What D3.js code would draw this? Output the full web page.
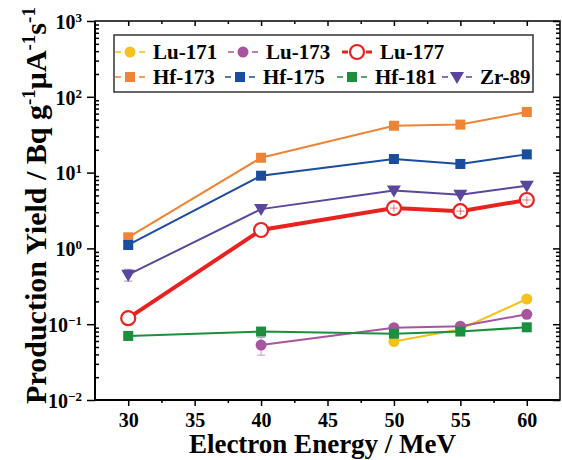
<!DOCTYPE html>
<html>
<head>
<meta charset="utf-8">
<script src="https://cdn.jsdelivr.net/npm/d3@7"></script>
<style>
  body { margin: 0; background: #fff; }
</style>
</head>
<body>
<div id="chart"></div>
<script>
// Data (null = no point).
const energies = [30, 40, 50, 55, 60];
const xTicks = [30, 35, 40, 45, 50, 55, 60];
const xMinorTicks = [32.5, 37.5, 42.5, 47.5, 52.5, 57.5];
const yDecades = [1e-2, 1e-1, 1e0, 1e1, 1e2, 1e3];
const yExponents = ["\u22122", "\u22121", "0", "1", "2", "3"];

const lu171 = [null, null, 0.059, 0.086, 0.215];
const lu173 = [null, 0.053, 0.090, 0.094, 0.135];
const lu177 = [0.12, 1.75, 3.4, 3.1, 4.35];
const hf173 = [1.4, 15.7, 41.5, 43, 63];
const hf175 = [1.11, 9.1, 15.1, 13, 17.4];
const hf181 = [0.070, 0.080, 0.075, 0.080, 0.091];
const zr89 = [0.45, 3.3, 5.8, 5.1, 6.7];

// Error bars (absolute), only where visible.
const lu173Err = [null, 0.014, null, null, null];
const lu177Err = [null, null, 0.4, 0.36, 0.5];
const zr89Err = [0.08, null, null, null, null];

const series = [
  {name: "Lu-171", values: lu171, err: null, color: "#F4C21B", shape: "circle", width: 2},
  {name: "Lu-173", values: lu173, err: lu173Err, color: "#A8559F", shape: "circle", width: 2},
  {name: "Lu-177", values: lu177, err: lu177Err, color: "#E8221F", shape: "open", width: 4},
  {name: "Hf-173", values: hf173, err: null, color: "#EE8435", shape: "square", width: 2},
  {name: "Hf-175", values: hf175, err: null, color: "#1B4D9E", shape: "square", width: 2},
  {name: "Hf-181", values: hf181, err: null, color: "#1B8F3F", shape: "square", width: 2},
  {name: "Zr-89", values: zr89, err: zr89Err, color: "#5B469E", shape: "triangle", width: 2}
];

const font = "Liberation Serif";

// Dimensions.
var margin = {top: 21, right: 2, bottom: 60, left: 95},
    width = 562 - margin.left - margin.right,
    height = 460 - margin.top - margin.bottom;

var svg = d3.select("#chart")
  .append("svg")
    .attr("width", 562)
    .attr("height", 460)
  .append("g")
    .attr("transform", "translate(" + margin.left + "," + margin.top + ")");

var x = d3.scaleLinear().domain([27.5, 62.5]).range([0, width]);
var y = d3.scaleLog().domain([1e-2, 1e3]).range([height, 0]);

// Minor tick values for the log axis.
var yMinor = [];
yDecades.slice(0, -1).forEach(function(d) {
  for (var k = 2; k <= 9; k++) yMinor.push(d * k);
});

function styleAxis(g) {
  g.select(".domain").remove();
  g.selectAll(".tick line").attr("stroke", "#000").attr("stroke-width", 1.5);
}

// Helper for bold serif text.
function serif(sel, size) {
  return sel.attr("font-family", font)
    .style("font-family", font)
    .attr("font-weight", "bold")
    .style("font-size", size + "px");
}

// Bottom axis.
svg.append("g")
  .attr("transform", "translate(0," + height + ")")
  .call(d3.axisBottom(x).tickValues(xTicks).tickSize(6).tickPadding(7))
  .call(styleAxis)
  .call(g => serif(g.selectAll("text"), 20).attr("fill", "#000"));

svg.append("g")
  .attr("transform", "translate(0," + height + ")")
  .call(d3.axisBottom(x).tickValues(xMinorTicks).tickSize(3).tickFormat(""))
  .call(styleAxis);

// Top axis (ticks inward).
svg.append("g")
  .call(d3.axisBottom(x).tickValues(xTicks).tickSize(5).tickFormat(""))
  .call(styleAxis);
svg.append("g")
  .call(d3.axisBottom(x).tickValues(xMinorTicks).tickSize(3).tickFormat(""))
  .call(styleAxis);

// Left axis.
var leftAxis = svg.append("g")
  .call(d3.axisLeft(y).tickValues(yDecades).tickSize(8).tickFormat(""))
  .call(styleAxis);

leftAxis.selectAll(".tick").append("text")
  .attr("x", -13)
  .attr("dy", "0.36em")
  .attr("text-anchor", "end")
  .attr("fill", "#000")
  .call(t => serif(t, 20))
  .each(function(d, i) {
    var t = d3.select(this);
    t.append("tspan").text("10");
    t.append("tspan").attr("dy", -7).style("font-size", "13px").text(yExponents[i]);
  });

svg.append("g")
  .attr("transform", "translate(4,0)")
  .call(d3.axisLeft(y).tickValues(yMinor).tickSize(4).tickFormat(""))
  .call(styleAxis);

// Right axis (ticks inward).
svg.append("g")
  .attr("transform", "translate(" + width + ",0)")
  .call(d3.axisLeft(y).tickValues(yDecades).tickSize(7).tickFormat(""))
  .call(styleAxis);
svg.append("g")
  .attr("transform", "translate(" + width + ",0)")
  .call(d3.axisLeft(y).tickValues(yMinor).tickSize(4).tickFormat(""))
  .call(styleAxis);

// Frame.
svg.append("rect")
  .attr("width", width)
  .attr("height", height)
  .attr("fill", "none")
  .attr("stroke", "#000")
  .attr("stroke-width", 1.5);
svg.append("line")
  .attr("x1", 0).attr("y1", 0).attr("x2", 0).attr("y2", height)
  .attr("stroke", "#000").attr("stroke-width", 2);
svg.append("line")
  .attr("x1", 0).attr("y1", height).attr("x2", width).attr("y2", height)
  .attr("stroke", "#000").attr("stroke-width", 2);

// Marker drawing.
function drawMarker(g, s, cx, cy) {
  if (s.shape === "circle") {
    g.append("circle").attr("cx", cx).attr("cy", cy).attr("r", 5.5)
      .attr("fill", s.color);
  } else if (s.shape === "open") {
    g.append("circle").attr("cx", cx).attr("cy", cy).attr("r", 7)
      .attr("fill", "#fff").attr("stroke", s.color).attr("stroke-width", 2.2);
  } else if (s.shape === "square") {
    g.append("rect").attr("x", cx - 5).attr("y", cy - 5)
      .attr("width", 10).attr("height", 10).attr("fill", s.color);
  } else if (s.shape === "triangle") {
    g.append("path")
      .attr("d", "M" + (cx - 7) + "," + (cy - 5) + "L" + (cx + 7) + "," + (cy - 5) +
        "L" + cx + "," + (cy + 7) + "Z")
      .attr("fill", s.color);
  }
}

var line = d3.line()
  .defined(d => d.v != null)
  .x(d => x(d.e))
  .y(d => y(d.v));

series.forEach(function(s) {
  var pts = energies.map((e, i) => ({e: e, v: s.values[i], err: s.err ? s.err[i] : null}));
  var g = svg.append("g");

  g.append("path")
    .datum(pts)
    .attr("d", line)
    .attr("fill", "none")
    .attr("stroke", s.color)
    .attr("stroke-width", s.width);

  pts.filter(d => d.v != null).forEach(function(d) {
    drawMarker(g, s, x(d.e), y(d.v));
  });

  // Error bars on top of markers.
  pts.filter(d => d.v != null && d.err != null).forEach(function(d) {
    var cx = x(d.e), cy = y(d.v);
    var lo = y(Math.max(d.v - d.err, 1e-3)), hi = y(d.v + d.err);
    g.append("line").attr("x1", cx).attr("x2", cx).attr("y1", lo).attr("y2", hi)
      .attr("stroke", s.color).attr("stroke-width", 1).attr("opacity", 0.6);
    var caps = s.shape === "open" ? [cy] : [lo, hi];
    caps.forEach(function(yy) {
      g.append("line").attr("x1", cx - 4).attr("x2", cx + 4).attr("y1", yy).attr("y2", yy)
        .attr("stroke", s.color).attr("stroke-width", 1).attr("opacity", 0.6);
    });
  });
});

// Legend.
var legend = svg.append("g");
legend.append("rect")
  .attr("x", 19).attr("y", 14)
  .attr("width", 419).attr("height", 57)
  .attr("fill", "#fff")
  .attr("stroke", "#333")
  .attr("stroke-width", 1.5);

var legendPos = [
  [35, 31], [148, 31], [262, 31],
  [35, 56], [145, 56], [257, 56], [362, 56]
];

series.forEach(function(s, i) {
  var lx = legendPos[i][0], ly = legendPos[i][1];
  legend.append("line")
    .attr("x1", lx - 15).attr("x2", lx + 15)
    .attr("y1", ly).attr("y2", ly)
    .attr("stroke", s.color)
    .attr("stroke-width", s.shape === "open" ? 3 : 1.5)
    .attr("stroke-dasharray", "6,18,6");
  drawMarker(legend, s, lx, ly);
  legend.append("text")
    .attr("x", lx + 23)
    .attr("y", ly)
    .attr("dy", "0.35em")
    .call(t => serif(t, 21))
    .text(s.name);
});

// Axis titles.
svg.append("text")
  .attr("x", width / 2 - 5)
  .attr("y", height + 53)
  .attr("text-anchor", "middle")
  .call(t => serif(t, 27))
  .text("Electron Energy / MeV");

var yTitle = svg.append("text")
  .attr("transform", "translate(-49," + (height / 2 - 5) + ") rotate(-90)")
  .attr("text-anchor", "middle")
  .call(t => serif(t, 30));
yTitle.append("tspan").text("Production Yield / Bq g");
yTitle.append("tspan").attr("dy", -11).style("font-size", "19px").text("-1");
yTitle.append("tspan").attr("dy", 11).text("\u03BCA");
yTitle.append("tspan").attr("dy", -11).style("font-size", "19px").text("-1");
yTitle.append("tspan").attr("dy", 11).text("s");
yTitle.append("tspan").attr("dy", -11).style("font-size", "19px").text("-1");
</script>
</body>
</html>
